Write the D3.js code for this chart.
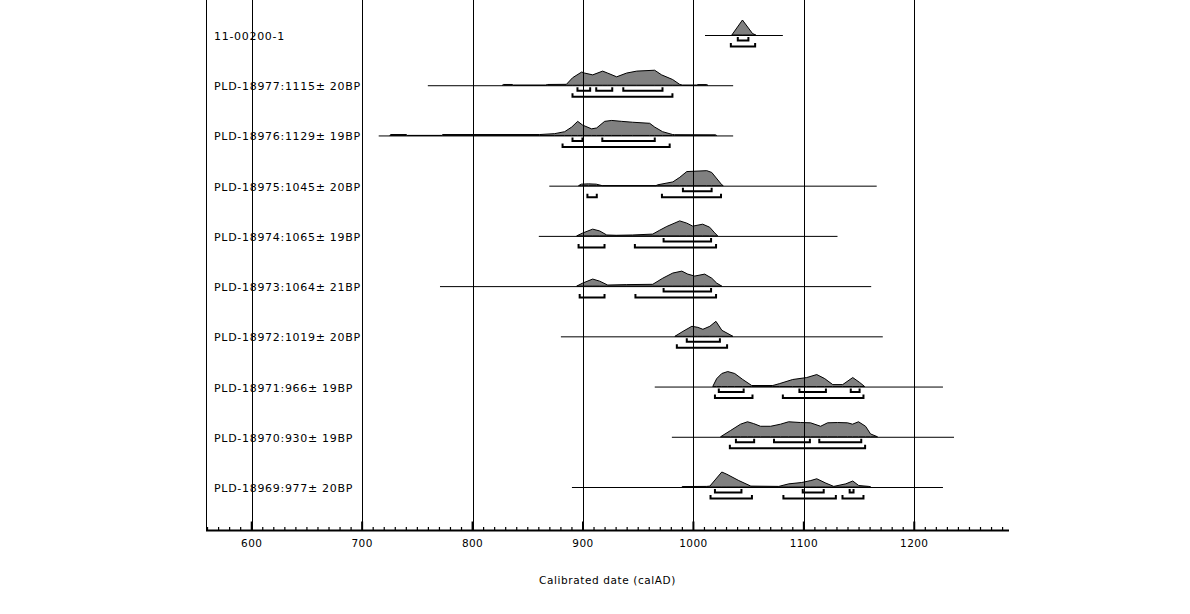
<!DOCTYPE html>
<html><head><meta charset="utf-8">
<script src="https://cdn.jsdelivr.net/npm/d3@7"></script>
<style>body{margin:0;background:#fff}</style>
</head><body>
<svg id="c" width="1190" height="614"></svg>
<script>
// ---- data ----
const labels = ["11-00200-1","PLD-18977:1115\u00b1 20BP","PLD-18976:1129\u00b1 19BP","PLD-18975:1045\u00b1 20BP","PLD-18974:1065\u00b1 19BP","PLD-18973:1064\u00b1 21BP","PLD-18972:1019\u00b1 20BP","PLD-18971:966\u00b1 19BP","PLD-18970:930\u00b1 19BP","PLD-18969:977\u00b1 20BP"];
const rangeStart = [1010.5, 759.5, 715, 869.5, 860, 770.5, 880, 965, 980.5, 890];
const rangeEnd   = [1081, 1036, 1036, 1166, 1130.5, 1161, 1171.5, 1226, 1236, 1226];
const tickYears = [600,700,800,900,1000,1100,1200];
const xDomain = [558.6, 1285.8];

const dist_11_00200_1 = [[1034.8,0],[1044.4,1],[1053.5,0.1],[1056.5,0]];
const dist_18977 = [[827,0],[828,0.05],[836,0.05],[837,0],[866,0],[868,0.05],[885,0.06],[890.6,0.5],[898.8,0.88],[901.5,0.81],[908.8,0.69],[917.8,0.94],[922.3,0.81],[930.5,0.56],[939.5,0.81],[948.6,0.94],[964.9,1.0],[971.2,0.69],[981.2,0.38],[987.5,0.06],[990,0],[1003,0],[1004,0.04],[1012,0.04],[1013,0]];
const dist_18976 = [[725,0],[726,0.06],[740,0.06],[741,0],[772,0],[773,0.06],[860.8,0.06],[874.4,0.12],[883.4,0.25],[889.8,0.56],[895.2,0.94],[899.7,0.69],[907.8,0.44],[912.4,0.5],[919.6,0.94],[926,1.0],[935,0.94],[945,0.88],[960.4,0.81],[964.9,0.56],[972.1,0.25],[981.2,0.06],[983,0.05],[1020,0.04],[1021,0]];
const dist_18975 = [[896,0],[898.5,0.1],[905,0.12],[912,0.1],[917.5,0],[966,0],[967.8,0.06],[981.4,0.25],[987.7,0.56],[994,0.94],[1012.1,1.0],[1016.6,0.88],[1025.7,0.06],[1027,0]];
const dist_18974 = [[894.3,0],[899.7,0.19],[908.8,0.45],[915.1,0.33],[921.5,0.06],[930,0.04],[945,0.06],[963.2,0.12],[969.5,0.38],[975.9,0.63],[987.6,1.0],[994,0.85],[999.4,0.65],[1008.4,0.78],[1014.7,0.58],[1019.3,0.2],[1022,0]];
const dist_18973 = [[894.3,0],[899.7,0.2],[908.8,0.47],[915.1,0.33],[922.4,0.07],[939.6,0.1],[963.2,0.12],[972.3,0.53],[981.3,0.87],[989.5,1.0],[994.9,0.8],[1001.2,0.67],[1010.2,0.8],[1016.6,0.53],[1021.1,0.2],[1025.7,0]];
const dist_18972 = [[983.2,0],[990.5,0.33],[998.6,0.67],[1004,0.6],[1008.6,0.47],[1014.9,0.67],[1020.4,1.0],[1025.8,0.4],[1035.8,0]];
const dist_18971 = [[1017.5,0],[1021.1,0.53],[1025.7,0.87],[1031.1,1],[1037.4,0.87],[1044.7,0.47],[1052.8,0.07],[1071.9,0.07],[1078.2,0.2],[1089.9,0.47],[1102.6,0.6],[1111.7,0.8],[1118.9,0.53],[1126.2,0.13],[1135.2,0.13],[1144.3,0.6],[1150.6,0.27],[1155.1,0]];
const dist_18970 = [[1024.6,0],[1033.7,0.42],[1042.7,0.84],[1049,1],[1054.5,0.88],[1060.8,0.7],[1069.9,0.7],[1078.9,0.84],[1086.2,1],[1097,0.95],[1106.1,0.93],[1115.2,0.7],[1121.5,0.93],[1130.5,0.95],[1139.6,0.93],[1144.1,0.84],[1149.5,1],[1155.9,0.7],[1160.4,0.19],[1166.7,0]];
const dist_18969 = [[989.5,0],[990,0.03],[1012,0.04],[1014.9,0.06],[1020.3,0.53],[1025.7,1],[1030.3,0.85],[1041.1,0.43],[1052,0.06],[1077.3,0.04],[1086.4,0.21],[1098.1,0.3],[1106.3,0.43],[1111.7,0.55],[1119.9,0.26],[1127.1,0.04],[1138,0.21],[1144.3,0.4],[1149.7,0.1],[1158.8,0.04],[1160.6,0]];
const distributions = [dist_11_00200_1,dist_18977,dist_18976,dist_18975,dist_18974,dist_18973,dist_18972,dist_18971,dist_18970,dist_18969];

const ranges68 = [
  [[1040.2,1049.8]],
  [[895,906.5],[912,926.5],[936.5,972]],
  [[890.5,899.5],[917.5,965]],
  [[990.5,1016.5]],
  [[973,1016]],
  [[973,1016]],
  [[994,1024]],
  [[1023,1045.5],[1096,1120],[1142.5,1150.5]],
  [[1038.5,1055],[1073,1105.5],[1114,1152]],
  [[1019.5,1043.5],[1099,1118],[1141.5,1145]]
];
const ranges95 = [
  [[1033.9,1055.9]],
  [[890.5,981]],
  [[881.5,978.5]],
  [[904,912.5],[971.5,1025]],
  [[896,919.5],[947,1020.5]],
  [[897,919.5],[947.5,1020.5]],
  [[985,1030.5]],
  [[1019.5,1053.5],[1081,1154]],
  [[1033,1155.5]],
  [[1015.5,1053],[1081.5,1129],[1135,1154]]
];

// ---- layout ----
const svg = d3.select("#c");
const x = d3.scaleLinear().domain(xDomain).range([206, 1009]);
const yRow = d3.scalePoint().domain(labels).range([35, 487]);
const h = d3.scaleLinear().domain([0,1]).range([0,15]);
const axisY = 530.5;

const rows = svg.append("g");
labels.forEach((lab, i) => {
  const base = yRow(lab);
  const g = rows.append("g");
  g.append("text").attr("x", 214).attr("y", base + 5)
    .attr("font-family", "DejaVu Sans").attr("font-size", 11)
    .attr("letter-spacing", 0.7).attr("fill", "#000").text(lab);
  g.append("line").attr("x1", x(rangeStart[i])).attr("x2", x(rangeEnd[i]))
    .attr("y1", base + 0.5).attr("y2", base + 0.5).attr("stroke", "#000").attr("stroke-width", 1);
  const area = d3.area().x(d => x(d[0])).y0(base).y1(d => base - h(d[1]));
  g.append("path").attr("d", area(distributions[i]))
    .attr("fill", "#808080").attr("stroke", "#000").attr("stroke-width", 1).attr("stroke-linejoin", "round");
  const bracket = (r, off) => {
    const yb = base + off;
    return `M${x(r[0])},${yb-3.5}V${yb}H${x(r[1])}V${yb-3.5}`;
  };
  ranges68[i].forEach(r => g.append("path").attr("d", bracket(r, 5.5))
    .attr("fill", "none").attr("stroke", "#000").attr("stroke-width", 2));
  ranges95[i].forEach(r => g.append("path").attr("d", bracket(r, 11.5))
    .attr("fill", "none").attr("stroke", "#000").attr("stroke-width", 2));
});

// gridlines (drawn over)
const grid = svg.append("g");
grid.append("line").attr("x1", 206.5).attr("x2", 206.5).attr("y1", 0).attr("y2", axisY)
  .attr("stroke", "#000");
tickYears.forEach(t => {
  grid.append("line").attr("x1", Math.round(x(t)) + 0.5).attr("x2", Math.round(x(t)) + 0.5)
    .attr("y1", 0).attr("y2", axisY).attr("stroke", "#000");
});

// axis
const ax = svg.append("g");
ax.append("line").attr("x1", 206).attr("x2", 1009).attr("y1", axisY).attr("y2", axisY)
  .attr("stroke", "#000").attr("stroke-width", 2.2);
const minor = d3.range(560, 1286, 10);
minor.forEach(t => {
  const major = t % 100 === 0;
  ax.append("line").attr("x1", x(t)).attr("x2", x(t))
    .attr("y1", axisY - (major ? 9 : 3.5)).attr("y2", axisY)
    .attr("stroke", "#000").attr("stroke-width", major ? 2 : 1.2);
});
tickYears.forEach(t => {
  ax.append("text").attr("x", x(t)).attr("y", 547).attr("text-anchor", "middle")
    .attr("font-family", "DejaVu Sans").attr("font-size", 10.5).attr("letter-spacing", 0.4)
    .attr("fill", "#000").text(t);
});
ax.append("text").attr("x", 607.5).attr("y", 584).attr("text-anchor", "middle")
  .attr("font-family", "DejaVu Sans").attr("font-size", 10.5).attr("letter-spacing", 0.6)
  .attr("fill", "#000").text("Calibrated date (calAD)");
</script>
</body></html>
